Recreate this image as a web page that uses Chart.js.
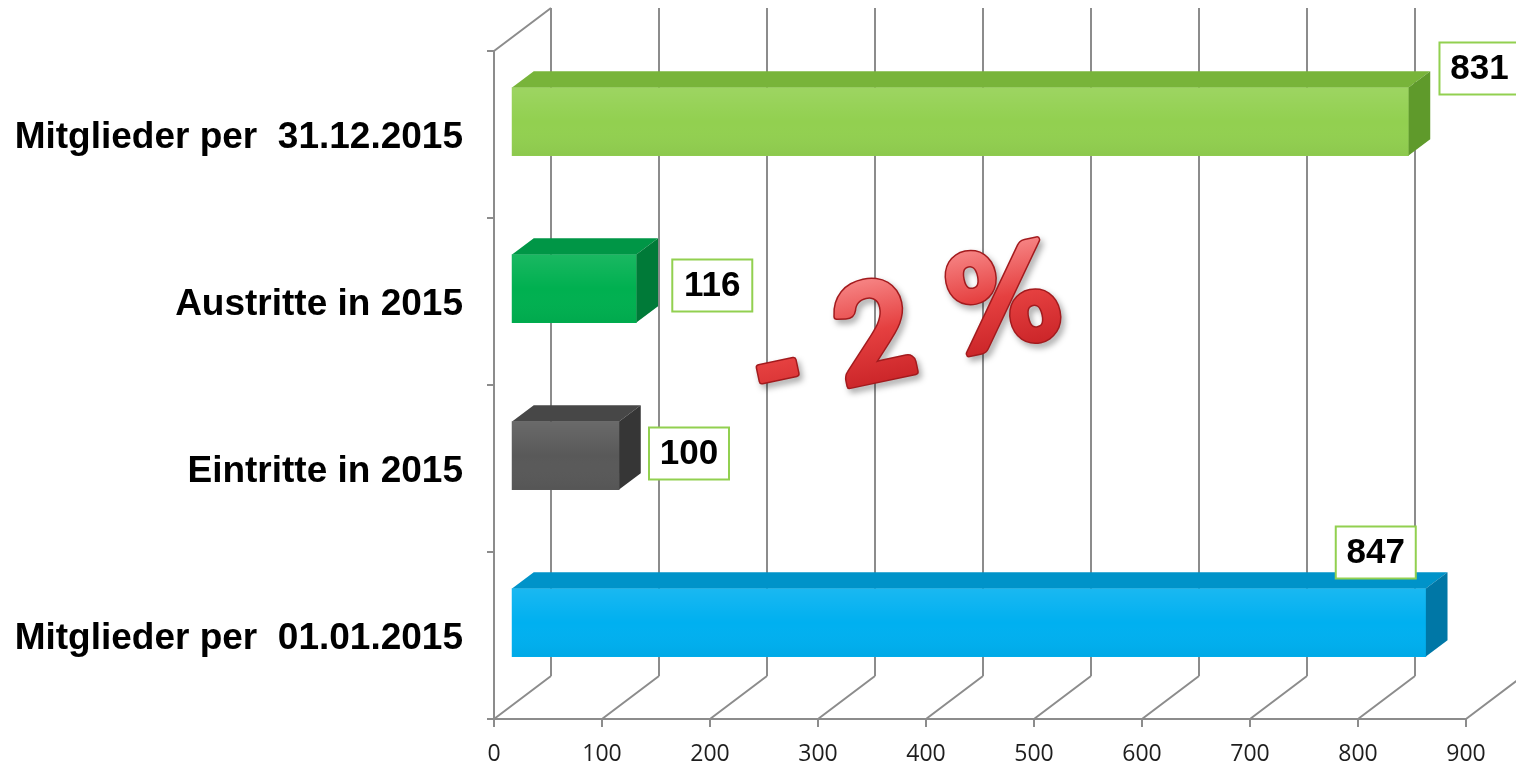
<!DOCTYPE html>
<html>
<head>
<meta charset="utf-8">
<title>Mitglieder 2015</title>
<script src="https://cdn.jsdelivr.net/npm/chart.js@4.4.1/dist/chart.umd.min.js"></script>
<style>
    html, body { margin: 0; padding: 0; background: #fff; }
    canvas { display: block; }
</style>
</head>
<body>
<canvas id="memberChart" width="1516" height="765"></canvas>
<script>
"use strict";

var categories = ["Mitglieder per  31.12.2015", "Austritte in 2015", "Eintritte in 2015", "Mitglieder per  01.01.2015"];
var memberValues = [831, 116, 100, 847];
var axisMin = 0;
var axisMax = 900;
var axisStep = 100;
var overlayChars = ["-", "2", "%"];

// face colours per bar: front, top, right side
var frontColors = ["#92d050", "#00b050", "#595959", "#00b0f0"];
var topColors = ["#78b43a", "#009646", "#474747", "#0093c9"];
var sideColors = ["#5f9a2b", "#007a38", "#363636", "#0077a6"];

var gridColor = "#8c8c8c";
var labelBorder = "#92d050";

// 3D look
var depth = { x: 57, y: -43 };
var barFront = 0.3;
var barBack = 0.68;

var wall3d = {
    id: "wall3d",
    beforeDatasetsDraw: function(chart) {
        var ctx = chart.ctx;
        var area = chart.chartArea;
        var xScale = chart.scales.x;
        var n = categories.length;

        ctx.save();
        ctx.strokeStyle = gridColor;
        ctx.lineWidth = 2;
        ctx.beginPath();
        xScale.ticks.forEach(function(t) {
            var px = xScale.getPixelForValue(t.value);
            // back wall
            ctx.moveTo(px + depth.x, area.top + depth.y);
            ctx.lineTo(px + depth.x, area.bottom + depth.y);
            // floor
            ctx.moveTo(px, area.bottom);
            ctx.lineTo(px + depth.x, area.bottom + depth.y);
        });
        // left wall
        ctx.moveTo(area.left, area.top);
        ctx.lineTo(area.left + depth.x, area.top + depth.y);
        ctx.moveTo(area.left, area.top);
        ctx.lineTo(area.left, area.bottom);
        for (var i = 0; i <= n; i++) {
            var py = area.top + i * (area.bottom - area.top) / n;
            ctx.moveTo(area.left - 7, py);
            ctx.lineTo(area.left, py);
        }
        ctx.stroke();
        ctx.restore();

        // shift the bars into the box
        ctx.save();
        ctx.translate(depth.x * barFront, depth.y * barFront);
    },
    afterDatasetsDraw: function(chart) {
        var ctx = chart.ctx;
        var meta = chart.getDatasetMeta(0);
        var bx = depth.x * (barBack - barFront);
        var by = depth.y * (barBack - barFront);

        meta.data.forEach(function(bar, i) {
            var p = bar.getProps(["x", "y", "base", "height"], true);
            var x0 = p.base;
            var x1 = p.x;
            var y0 = p.y - p.height / 2;
            var y1 = p.y + p.height / 2;

            ctx.fillStyle = topColors[i];
            ctx.beginPath();
            ctx.moveTo(x0, y0);
            ctx.lineTo(x1, y0);
            ctx.lineTo(x1 + bx, y0 + by);
            ctx.lineTo(x0 + bx, y0 + by);
            ctx.closePath();
            ctx.fill();

            ctx.fillStyle = sideColors[i];
            ctx.beginPath();
            ctx.moveTo(x1, y0);
            ctx.lineTo(x1 + bx, y0 + by);
            ctx.lineTo(x1 + bx, y1 + by);
            ctx.lineTo(x1, y1);
            ctx.closePath();
            ctx.fill();

            // soft highlight on the front face
            var g = ctx.createLinearGradient(0, y0, 0, y1);
            g.addColorStop(0, "rgba(255,255,255,0.10)");
            g.addColorStop(0.5, "rgba(255,255,255,0)");
            g.addColorStop(1, "rgba(0,0,0,0.04)");
            ctx.fillStyle = g;
            ctx.fillRect(x0, y0, x1 - x0, y1 - y0);
        });
        ctx.restore();
    }
};

// boxed value labels; offsets are box left from bar end, box centre from bar centre
var labelOffsets = [[48, -66], [53, -16], [47, -15], [-73, -83]];

var valueBoxes = {
    id: "valueBoxes",
    afterDatasetsDraw: function(chart) {
        var ctx = chart.ctx;
        var meta = chart.getDatasetMeta(0);
        ctx.save();
        meta.data.forEach(function(bar, i) {
            var p = bar.getProps(["x", "y"], true);
            var w = 80, h = 52;
            var left = p.x + labelOffsets[i][0];
            var cy = p.y + labelOffsets[i][1];
            ctx.fillStyle = "#ffffff";
            ctx.fillRect(left, cy - h / 2, w, h);
            ctx.strokeStyle = labelBorder;
            ctx.lineWidth = 2;
            ctx.strokeRect(left, cy - h / 2, w, h);
            ctx.fillStyle = "#000000";
            ctx.font = "bold 35px 'Liberation Sans', Arial, sans-serif";
            ctx.textAlign = "center";
            ctx.textBaseline = "middle";
            ctx.fillText(String(memberValues[i]), left + w / 2, cy + 1);
        });
        ctx.restore();
    }
};

// the red "- 2 %" lettering
var overlayPos = [[777, 368], [874, 336], [1004, 302]];

var percentOverlay = {
    id: "percentOverlay",
    afterDraw: function(chart) {
        var ctx = chart.ctx;
        ctx.save();
        ctx.font = "bold 135px Lato, 'Open Sans', sans-serif";
        ctx.textAlign = "center";
        ctx.textBaseline = "middle";
        ctx.lineJoin = "round";
        overlayChars.forEach(function(ch, i) {
            ctx.save();
            ctx.translate(overlayPos[i][0], overlayPos[i][1]);
            ctx.rotate(-12 * Math.PI / 180);
            var g = ctx.createLinearGradient(0, -55, 0, 55);
            g.addColorStop(0, "#f58080");
            g.addColorStop(0.45, "#e54040");
            g.addColorStop(1, "#c82226");
            // dark rim + shadow
            ctx.shadowColor = "rgba(0,0,0,0.35)";
            ctx.shadowBlur = 6;
            ctx.shadowOffsetX = 3;
            ctx.shadowOffsetY = 4;
            ctx.strokeStyle = "#a31a1d";
            ctx.lineWidth = 7;
            ctx.strokeText(ch, 0, 0);
            ctx.shadowColor = "rgba(0,0,0,0)";
            // body
            ctx.strokeStyle = g;
            ctx.lineWidth = 4;
            ctx.strokeText(ch, 0, 0);
            ctx.fillStyle = g;
            ctx.fillText(ch, 0, 0);
            ctx.restore();
        });
        ctx.restore();
    }
};

new Chart(document.getElementById("memberChart"), {
    type: "bar",
    data: {
        labels: categories,
        datasets: [
            {
                label: "Mitglieder",
                data: memberValues,
                backgroundColor: frontColors,
                borderWidth: 0,
                barThickness: 68,
                clip: false
            }
        ]
    },
    options: {
        indexAxis: "y",
        responsive: false,
        animation: false,
        layout: {
            padding: { top: 51, right: 50, left: 0, bottom: 0 }
        },
        plugins: {
            legend: { display: false },
            tooltip: { enabled: false }
        },
        scales: {
            x: {
                min: axisMin,
                max: axisMax,
                ticks: {
                    stepSize: axisStep,
                    color: "#1e1e1e",
                    padding: 14,
                    font: { family: "'Open Sans', sans-serif", size: 23 }
                },
                grid: {
                    drawOnChartArea: false,
                    drawTicks: true,
                    tickLength: 8,
                    color: gridColor,
                    lineWidth: 2
                },
                border: { display: true, color: gridColor, width: 2 },
                afterFit: function(scale) {
                    scale.height = 46;
                }
            },
            y: {
                ticks: {
                    color: "#000000",
                    padding: 23,
                    labelOffset: 3,
                    font: { family: "'Liberation Sans', Arial, sans-serif", size: 37, weight: "bold", lineHeight: 0.6 }
                },
                grid: { display: false },
                border: { display: false },
                afterFit: function(scale) {
                    scale.width = 494;
                }
            }
        }
    },
    plugins: [wall3d, valueBoxes, percentOverlay]
});
</script>
</body>
</html>
